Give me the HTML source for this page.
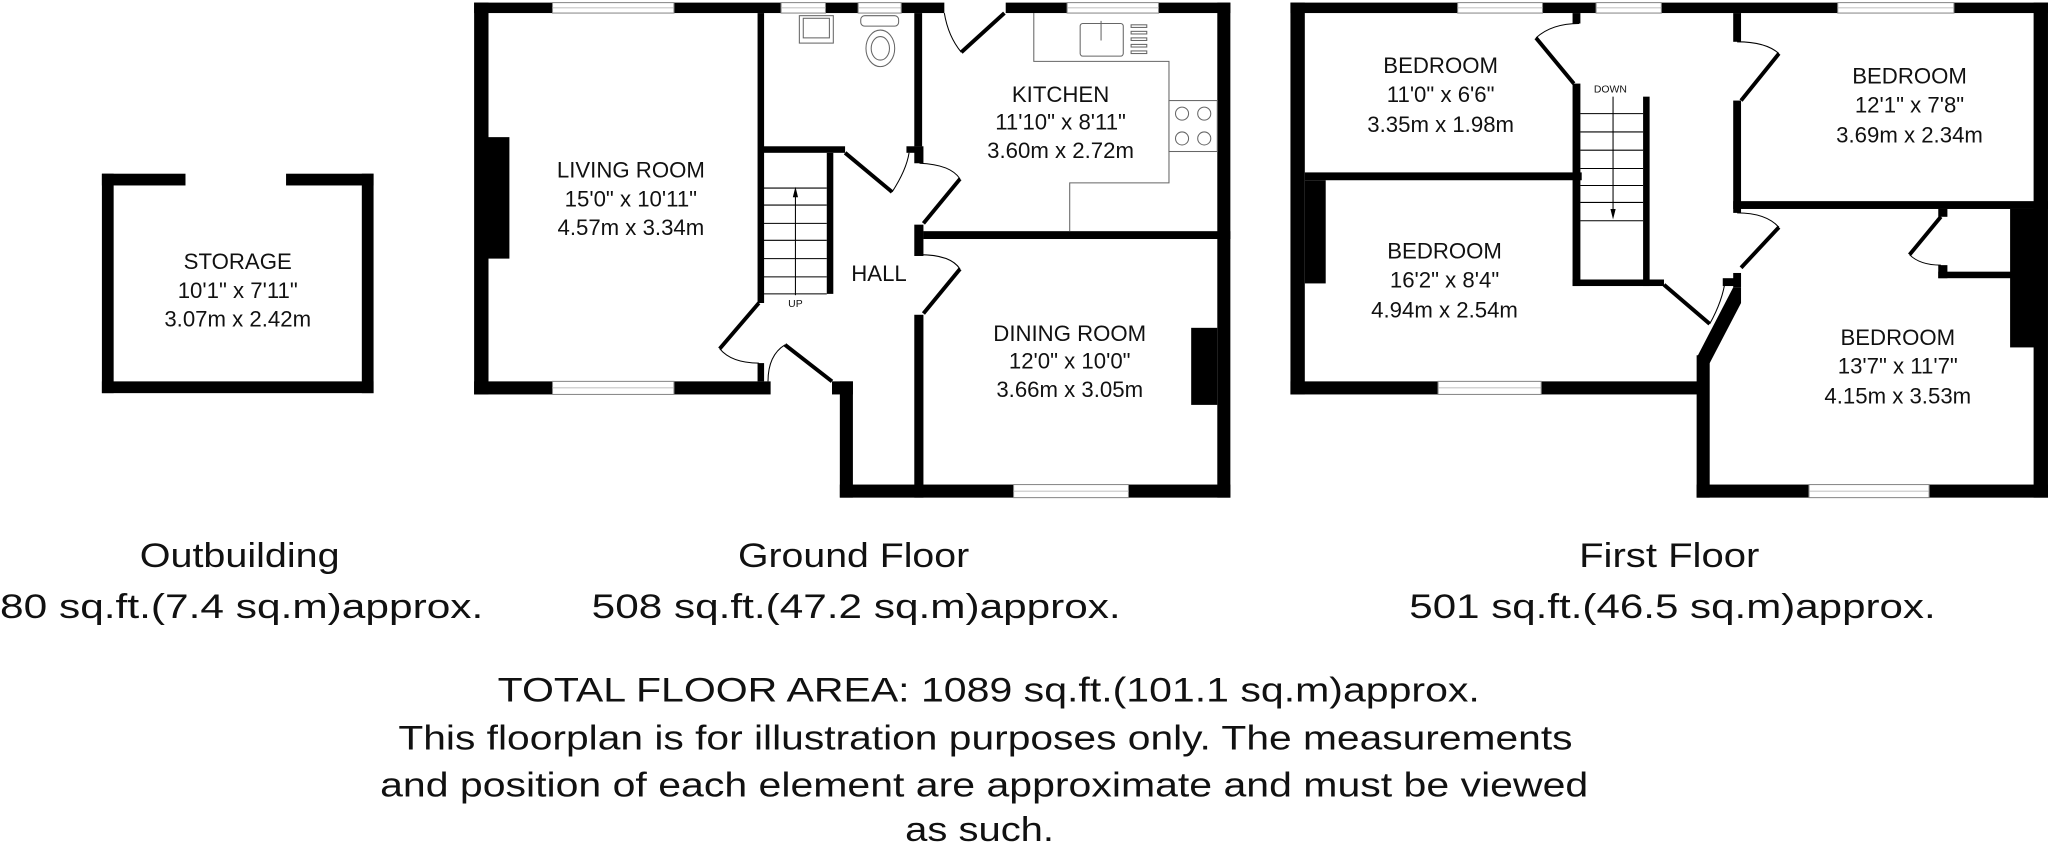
<!DOCTYPE html>
<html><head><meta charset="utf-8"><style>
html,body{margin:0;padding:0;background:#fff;width:2048px;height:847px;overflow:hidden}
svg{display:block}
text{font-family:"Liberation Sans Narrow","Liberation Sans",sans-serif;fill:#111}
.r{font-size:17px;text-anchor:middle}
.b{font-size:26px}
</style></head><body>
<svg width="2048" height="847" viewBox="0 0 1568 648.5" xmlns="http://www.w3.org/2000/svg">
<rect width="1568" height="648.5" fill="#fff"/>
<g fill="#000">
<!-- Storage -->
<rect x="78" y="133" width="64" height="9"/><rect x="219" y="133" width="67" height="9"/>
<rect x="78" y="133" width="9" height="168"/><rect x="277" y="133" width="9" height="168"/>
<rect x="78" y="292" width="208" height="9"/>

<!-- Ground floor -->
<rect x="363" y="2" width="360" height="8"/>
<rect x="770" y="2" width="172" height="8"/>
<rect x="363" y="2" width="11" height="300"/>
<rect x="363" y="292" width="227" height="10"/>
<rect x="374" y="105" width="16" height="93"/>
<rect x="580" y="10" width="5" height="222"/>
<rect x="580" y="278" width="5" height="14"/>
<rect x="700" y="10" width="6" height="102"/>
<rect x="584" y="112" width="63" height="5"/>
<rect x="694" y="112" width="12" height="5"/>
<rect x="700" y="112" width="7" height="13"/>
<rect x="700" y="172" width="7" height="24"/>
<rect x="700" y="241" width="7" height="140"/>
<rect x="707" y="177" width="235" height="6"/>
<rect x="932" y="2" width="10" height="379"/>
<rect x="912" y="251" width="20" height="59"/>
<rect x="643" y="371" width="299" height="10"/>
<rect x="643" y="292" width="10" height="89"/>
<rect x="637" y="292" width="16" height="10"/>
<rect x="633" y="117" width="5" height="108"/>

<!-- First floor -->
<rect x="988" y="2" width="580" height="8"/>
<rect x="988" y="2" width="11" height="300"/>
<rect x="988" y="292" width="316" height="10"/>
<rect x="999" y="132" width="212" height="6"/>
<rect x="999" y="138" width="16" height="79"/>
<rect x="1204" y="10" width="6" height="8"/>
<rect x="1204" y="64" width="6" height="155"/>
<rect x="1258" y="74" width="5" height="145"/>
<rect x="1204" y="214" width="70" height="5"/>
<rect x="1319" y="213" width="12" height="6"/>
<rect x="1327" y="10" width="6" height="22"/>
<rect x="1327" y="77" width="6" height="83"/>
<rect x="1327" y="154" width="241" height="6"/>
<rect x="1327" y="160" width="6" height="3"/>
<rect x="1327" y="209" width="6" height="11"/>
<polygon points="1327,220 1333,220 1333,232 1309,278 1300,278 1300,272"/>
<rect x="1299" y="272" width="10" height="109"/>
<rect x="1299" y="371" width="269" height="10"/>
<rect x="1557" y="2" width="11" height="379"/>
<rect x="1484" y="160" width="7" height="6"/>
<rect x="1484" y="203" width="7" height="10"/>
<rect x="1484" y="208" width="56" height="5"/>
<rect x="1539" y="160" width="19" height="106"/>
</g>

<!-- windows -->
<g fill="#fff" stroke="#888" stroke-width="0.8">
<rect x="423" y="2" width="93" height="8"/><rect x="423" y="292" width="93" height="10"/>
<rect x="598" y="2" width="34" height="8"/><rect x="657" y="2" width="33" height="8"/>
<rect x="817" y="2" width="70" height="8"/><rect x="776" y="371" width="88" height="10"/>
<rect x="1116" y="2" width="65" height="8"/><rect x="1222" y="2" width="50" height="8"/>
<rect x="1407" y="2" width="89" height="8"/><rect x="1101" y="292" width="79" height="10"/>
<rect x="1385" y="371" width="92" height="10"/>
</g>
<g stroke="#aaa" stroke-width="0.6">
<line x1="423" y1="6" x2="516" y2="6"/><line x1="423" y1="297" x2="516" y2="297"/>
<line x1="598" y1="6" x2="632" y2="6"/><line x1="657" y1="6" x2="690" y2="6"/>
<line x1="817" y1="6" x2="887" y2="6"/><line x1="776" y1="376" x2="864" y2="376"/>
<line x1="1116" y1="6" x2="1181" y2="6"/><line x1="1222" y1="6" x2="1272" y2="6"/>
<line x1="1407" y1="6" x2="1496" y2="6"/><line x1="1101" y1="297" x2="1180" y2="297"/>
<line x1="1385" y1="376" x2="1477" y2="376"/>
</g>

<!-- doors -->
<g stroke="#000" stroke-width="3" fill="none">
<line x1="581" y1="232" x2="551" y2="267"/>
<line x1="769" y1="10" x2="736" y2="40"/>
<line x1="707" y1="171" x2="735" y2="137"/>
<line x1="707" y1="240" x2="735" y2="206"/>
<line x1="637" y1="292" x2="601" y2="264"/>
<line x1="647" y1="117" x2="683" y2="147"/>
<line x1="1205" y1="64" x2="1176" y2="29"/>
<line x1="1274" y1="218" x2="1309" y2="248"/>
<line x1="1333" y1="77" x2="1362" y2="41"/>
<line x1="1333" y1="205" x2="1362" y2="174"/>
<line x1="1486" y1="166" x2="1462" y2="195"/>
</g>
<g stroke="#000" stroke-width="0.8" fill="none">
<path d="M551,267 Q560,278 581,278"/>
<path d="M736,40 Q726,28 723,10"/>
<path d="M735,137 Q728,126 704,125"/>
<path d="M735,206 Q728,195 704,195"/>
<path d="M601,264 Q588,272 588,292"/>
<path d="M683,147 Q694,130 696,117"/>
<path d="M1176,29 Q1188,18 1209,18"/>
<path d="M1309,248 Q1319,230 1321,214"/>
<path d="M1362,41 Q1352,32 1330,32"/>
<path d="M1362,174 Q1352,163 1330,163"/>
<path d="M1462,195 Q1470,203 1486,203"/>
</g>

<!-- stairs -->
<g stroke="#000" stroke-width="0.8" fill="none">
<line x1="584" y1="144" x2="633" y2="144"/><line x1="584" y1="157" x2="633" y2="157"/>
<line x1="584" y1="171" x2="633" y2="171"/><line x1="584" y1="184" x2="633" y2="184"/>
<line x1="584" y1="198" x2="633" y2="198"/><line x1="584" y1="212" x2="633" y2="212"/>
<line x1="584" y1="225" x2="633" y2="225"/>
<line x1="609" y1="226" x2="609" y2="146"/>
<line x1="1210" y1="87" x2="1258" y2="87"/><line x1="1210" y1="101" x2="1258" y2="101"/>
<line x1="1210" y1="115" x2="1258" y2="115"/><line x1="1210" y1="129" x2="1258" y2="129"/>
<line x1="1210" y1="142" x2="1258" y2="142"/><line x1="1210" y1="155" x2="1258" y2="155"/>
<line x1="1210" y1="169" x2="1258" y2="169"/>
<line x1="1235" y1="74" x2="1235" y2="164"/>
</g>
<polygon points="609,143 607,151 611,151" fill="#000"/>
<polygon points="1235,168 1233,160 1237,160" fill="#000"/>

<!-- kitchen fittings -->
<g stroke="#666" stroke-width="0.8" fill="none">
<polyline points="791.5,10 791.5,47 895,47 895,140 819,140 819,177"/>
<rect x="895" y="77" width="37" height="39"/>
<circle cx="905" cy="87" r="5"/><circle cx="922" cy="87" r="5"/>
<circle cx="905" cy="106" r="5"/><circle cx="922" cy="106" r="5"/>
<rect x="827" y="18" width="33" height="25" rx="2"/>
<line x1="843" y1="16" x2="843" y2="31"/>
<rect x="866" y="19" width="12" height="2"/><rect x="866" y="24" width="12" height="2"/>
<rect x="866" y="29" width="12" height="2"/><rect x="866" y="34" width="12" height="2"/>
<rect x="866" y="39" width="12" height="2"/>
<rect x="612" y="12" width="26" height="21"/>
<rect x="615" y="14" width="20" height="15"/>
<rect x="659" y="12" width="29" height="8" rx="3"/>
<ellipse cx="674" cy="37" rx="11" ry="14"/>
<ellipse cx="674" cy="37" rx="7" ry="9"/>
</g>

<!-- room labels -->
<text class="r" x="483" y="136">LIVING ROOM</text>
<text class="r" x="483" y="158">15'0" x 10'11"</text>
<text class="r" x="483" y="180">4.57m x 3.34m</text>
<text class="r" x="812" y="78">KITCHEN</text>
<text class="r" x="812" y="99">11'10" x 8'11"</text>
<text class="r" x="812" y="121">3.60m x 2.72m</text>
<text class="r" x="673" y="215">HALL</text>
<text class="r" x="819" y="261">DINING ROOM</text>
<text class="r" x="819" y="282">12'0" x 10'0"</text>
<text class="r" x="819" y="304">3.66m x 3.05m</text>
<text class="r" x="182" y="206">STORAGE</text>
<text class="r" x="182" y="228">10'1" x 7'11"</text>
<text class="r" x="182" y="250">3.07m x 2.42m</text>
<text x="609" y="235" style="font-size:8px;text-anchor:middle">UP</text>
<text x="1233" y="71" style="font-size:8px;text-anchor:middle">DOWN</text>
<text class="r" x="1103" y="56">BEDROOM</text>
<text class="r" x="1103" y="78">11'0" x 6'6"</text>
<text class="r" x="1103" y="101">3.35m x 1.98m</text>
<text class="r" x="1462" y="64">BEDROOM</text>
<text class="r" x="1462" y="86">12'1" x 7'8"</text>
<text class="r" x="1462" y="109">3.69m x 2.34m</text>
<text class="r" x="1106" y="198">BEDROOM</text>
<text class="r" x="1106" y="220">16'2" x 8'4"</text>
<text class="r" x="1106" y="243">4.94m x 2.54m</text>
<text class="r" x="1453" y="264">BEDROOM</text>
<text class="r" x="1453" y="286">13'7" x 11'7"</text>
<text class="r" x="1453" y="309">4.15m x 3.53m</text>

<!-- captions -->
<text class="b" x="107" y="434" textLength="153" lengthAdjust="spacingAndGlyphs">Outbuilding</text>
<text class="b" x="0" y="473" textLength="370" lengthAdjust="spacingAndGlyphs">80 sq.ft.(7.4 sq.m)approx.</text>
<text class="b" x="565" y="434" textLength="177" lengthAdjust="spacingAndGlyphs">Ground Floor</text>
<text class="b" x="453" y="473" textLength="405" lengthAdjust="spacingAndGlyphs">508 sq.ft.(47.2 sq.m)approx.</text>
<text class="b" x="1209" y="434" textLength="138" lengthAdjust="spacingAndGlyphs">First Floor</text>
<text class="b" x="1079" y="473" textLength="403" lengthAdjust="spacingAndGlyphs">501 sq.ft.(46.5 sq.m)approx.</text>
<text class="b" x="381" y="537" textLength="752" lengthAdjust="spacingAndGlyphs">TOTAL FLOOR AREA: 1089 sq.ft.(101.1 sq.m)approx.</text>
<text class="b" x="305" y="574" textLength="899" lengthAdjust="spacingAndGlyphs">This floorplan is for illustration purposes only. The measurements</text>
<text class="b" x="291" y="610" textLength="925" lengthAdjust="spacingAndGlyphs">and position of each element are approximate and must be viewed</text>
<text class="b" x="693" y="644" textLength="114" lengthAdjust="spacingAndGlyphs">as such.</text>
</svg>
</body></html>
